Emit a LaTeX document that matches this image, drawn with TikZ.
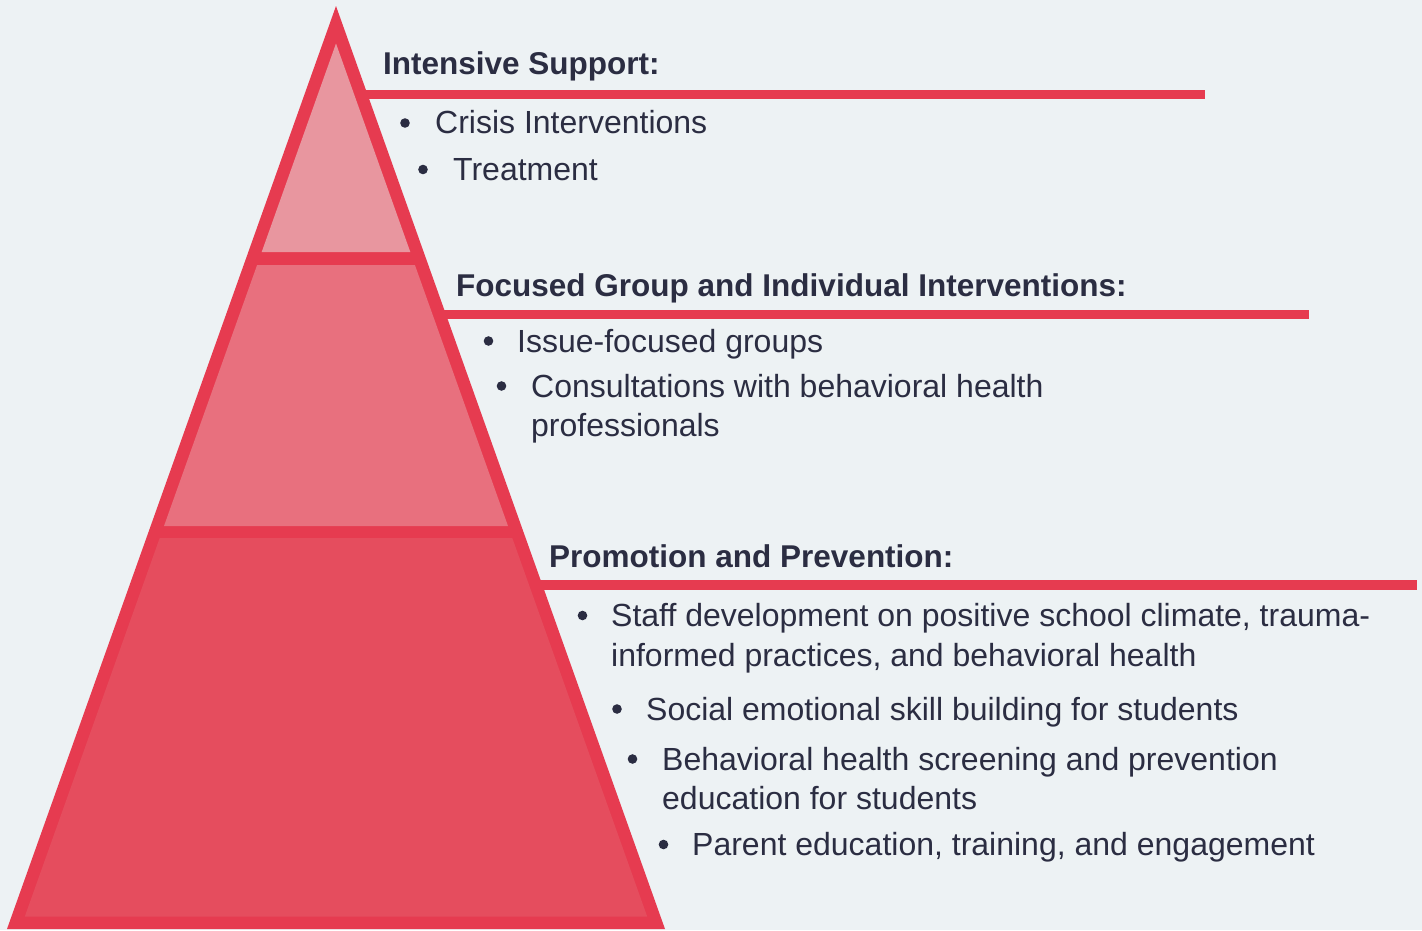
\documentclass[tikz,border=0pt]{standalone}
\usepackage{fontspec}
\setmainfont{Liberation Sans}
\definecolor{bg}{HTML}{EDF2F4}
\definecolor{edge}{HTML}{E63B50}
\definecolor{tierone}{HTML}{E8969F}
\definecolor{tiertwo}{HTML}{E8707E}
\definecolor{tierthree}{HTML}{E54D5E}
\definecolor{ink}{HTML}{2B2D42}
\begin{document}
\begin{tikzpicture}[x=1pt,y=-1pt,
  heading/.style={font=\fontsize{31.5}{36}\selectfont\bfseries, text=ink, anchor=base west, inner sep=0pt},
  item/.style={font=\fontsize{32}{38}\selectfont, text=ink, anchor=base west, inner sep=0pt},
  rule/.style={draw=edge, line width=9.5pt},
  dotmark/.style={fill=ink}]
\useasboundingbox (0,0) rectangle (1422,930);
\fill[bg] (0,0) rectangle (1422,930);
% horizontal rules
\coordinate (r1s) at (360,94.5);  \coordinate (r1e) at (1205,94.5);
\coordinate (r2s) at (440,314.3); \coordinate (r2e) at (1309,314.3);
\coordinate (r3s) at (536,585);   \coordinate (r3e) at (1417,585);
\draw[rule] (r1s) -- (r1e);
\draw[rule] (r2s) -- (r2e);
\draw[rule] (r3s) -- (r3e);
% pyramid
\fill[edge] (336,6) -- (665,929) -- (7,929) -- cycle;
\fill[tierone] (336,43.5) -- (410.3,252) -- (261.7,252) -- cycle;
\fill[tiertwo] (257.1,265) -- (414.9,265) -- (508,526) -- (164,526) -- cycle;
\fill[tierthree] (159.7,538) -- (512.3,538) -- (647.2,916.5) -- (24.8,916.5) -- cycle;
% headings
\node[heading] (h1) at (383,74) {Intensive Support:};
\node[heading] (h2) at (456,296) {Focused Group and Individual Interventions:};
\node[heading] (h3) at (549,567) {Promotion and Prevention:};
% bullets
\fill[dotmark] (405,123) circle (4.8pt);
\fill[dotmark] (423,169.5) circle (4.8pt);
\fill[dotmark] (488.5,341) circle (4.8pt);
\fill[dotmark] (501.5,386) circle (4.8pt);
\fill[dotmark] (582.5,615.5) circle (4.8pt);
\fill[dotmark] (617,709) circle (4.8pt);
\fill[dotmark] (632.5,759) circle (4.8pt);
\fill[dotmark] (663.5,844.5) circle (4.8pt);
% items
\node[item] (i1) at (435,133.5) {Crisis Interventions};
\node[item] (i2) at (453,180) {Treatment};
\node[item] (i3) at (517,352) {Issue-focused groups};
\node[item] (i4) at (531,397) {Consultations with behavioral health};
\node[item] (i4b) at (531,436) {professionals};
\node[item] (i5) at (611,626.5) {Staff development on positive school climate, trauma-};
\node[item] (i5b) at (611,666) {informed practices, and behavioral health};
\node[item] (i6) at (646,720) {Social emotional skill building for students};
\node[item] (i7) at (662,770) {Behavioral health screening and prevention};
\node[item] (i7b) at (662,809.5) {education for students};
\node[item] (i8) at (692,855.5) {Parent education, training, and engagement};
\end{tikzpicture}
\end{document}
